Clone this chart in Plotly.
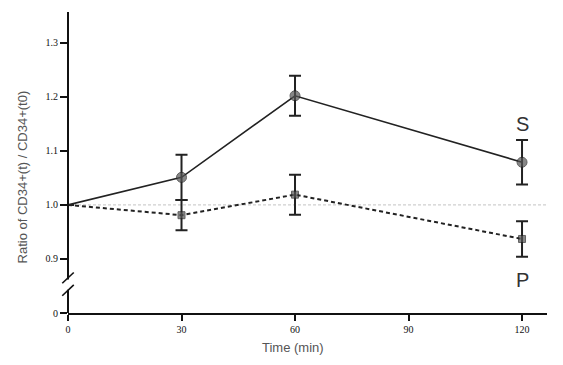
import plotly.graph_objects as go

time_min = [0, 30, 60, 120]
s_ratio = [1.0, 1.051, 1.202, 1.079]
s_err = [0, 0.042, 0.037, 0.041]
p_ratio = [1.0, 0.981, 1.019, 0.937]
p_err = [0, 0.028, 0.037, 0.033]

# broken y axis: the "0" tick sits one step below 0.9
y_tickvals = [0.8, 0.9, 1.0, 1.1, 1.2, 1.3]
y_ticktext = ["0", "0.9", "1.0", "1.1", "1.2", "1.3"]
x_tickvals = [0, 30, 60, 90, 120]

fig = go.Figure()

fig.add_trace(go.Scatter(
    x=time_min, y=p_ratio, mode="lines+markers",
    line=dict(color="#222", width=2, dash="4px,3px"),
    marker=dict(symbol="square", size=[0, 7, 7, 7], color="#555"),
    error_y=dict(type="data", array=p_err, color="#222", thickness=2, width=6),
    showlegend=False,
))
fig.add_trace(go.Scatter(
    x=time_min, y=s_ratio, mode="lines+markers",
    line=dict(color="#222", width=1.6),
    marker=dict(symbol="circle", size=[0, 10, 10, 10], color="#555"),
    error_y=dict(type="data", array=s_err, color="#222", thickness=2, width=6),
    showlegend=False,
))

shapes = [
    # light reference line at 1.0
    dict(type="line", xref="x domain", yref="y", x0=0, x1=1, y0=1.0, y1=1.0,
         line=dict(color="#cfcfcf", width=1.2, dash="3px,2px"), layer="below"),
    # y axis line in two parts (break)
    dict(type="line", xref="paper", yref="y", x0=0, x1=0, y0=0.8, y1=0.843,
         line=dict(color="#111", width=2)),
    dict(type="line", xref="paper", yref="y", x0=0, x1=0, y0=0.862, y1=1.357,
         line=dict(color="#111", width=2)),
    # break slashes
    dict(type="line", xref="paper", yref="y", x0=-0.012, x1=0.012, y0=0.832, y1=0.852,
         line=dict(color="#111", width=1.6)),
    dict(type="line", xref="paper", yref="y", x0=-0.012, x1=0.012, y0=0.855, y1=0.875,
         line=dict(color="#111", width=1.6)),
]

annotations = [
    dict(x=120, y=1.15, xref="x", yref="y", text="S", showarrow=False,
         font=dict(family="Liberation Sans", size=20, color="#333")),
    dict(x=120, y=0.862, xref="x", yref="y", text="P", showarrow=False,
         font=dict(family="Liberation Sans", size=20, color="#333")),
    dict(x=-0.095, y=0.452, xref="paper", yref="paper", text="Ratio of CD34+(t) / CD34+(t0)",
         textangle=-90, showarrow=False, xanchor="center", yanchor="middle",
         font=dict(family="Liberation Sans", size=13, color="#555")),
    dict(x=0.47, y=-0.116, xref="paper", yref="paper", text="Time (min)",
         showarrow=False, xanchor="center", yanchor="middle",
         font=dict(family="Liberation Sans", size=13, color="#555")),
]

fig.update_layout(
    width=555, height=357,
    margin=dict(l=60, r=16, t=4, b=52),
    plot_bgcolor="white", paper_bgcolor="white",
    shapes=shapes, annotations=annotations,
    xaxis=dict(range=[0, 126.6], tickvals=x_tickvals, showgrid=False, zeroline=False,
               showline=True, linecolor="#111", linewidth=2,
               ticks="outside", ticklen=6, tickwidth=2, tickcolor="#111",
               tickfont=dict(family="Liberation Serif", size=10, color="#111")),
    yaxis=dict(range=[0.8, 1.357], tickvals=y_tickvals, ticktext=y_ticktext,
               showgrid=False, zeroline=False, showline=False,
               ticks="outside", ticklen=7, tickwidth=2, tickcolor="#111",
               tickfont=dict(family="Liberation Serif", size=10, color="#111")),
)

fig.write_html("out.html")
